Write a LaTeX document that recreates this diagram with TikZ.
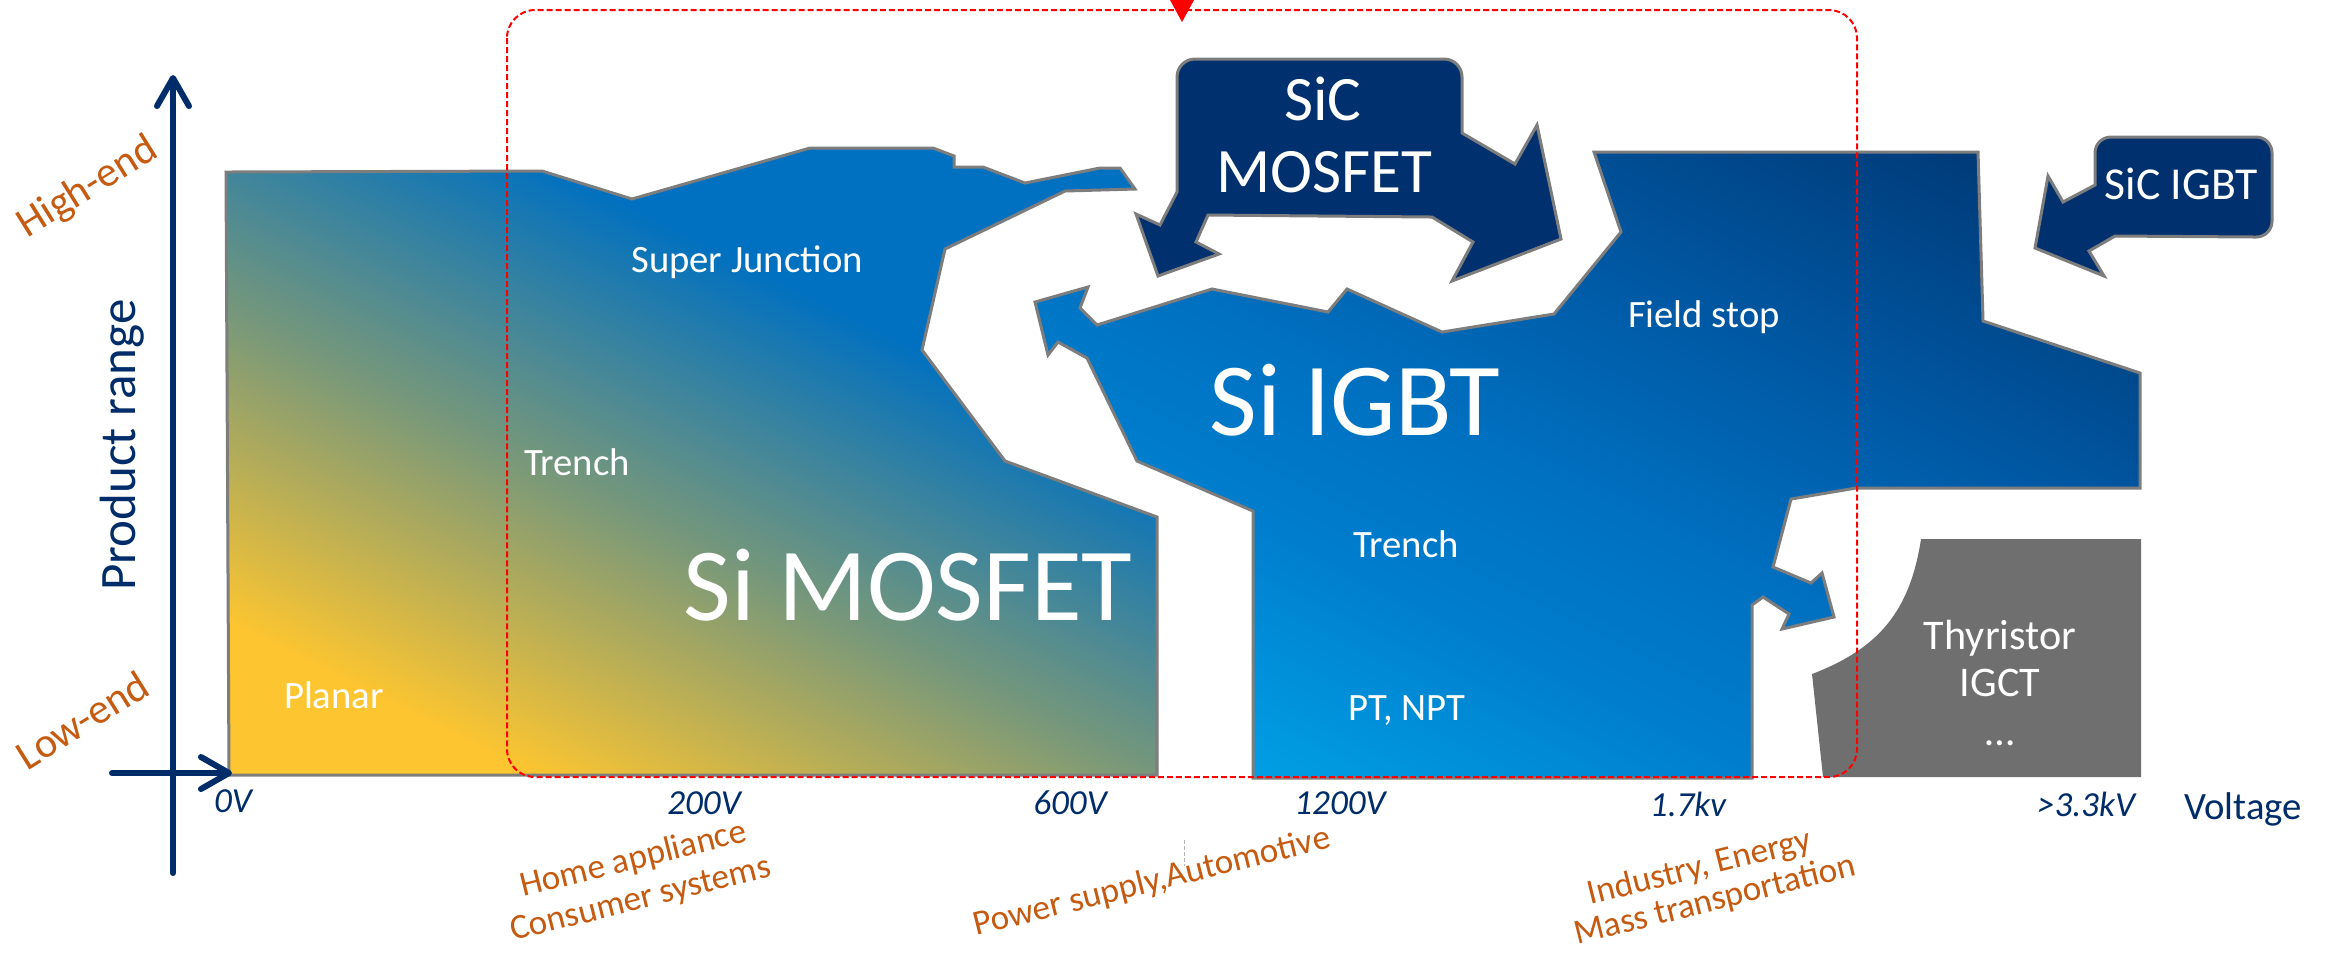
\documentclass[tikz,border=0pt]{standalone}
\usepackage{fontspec}
\setmainfont{Carlito}
\usetikzlibrary{arrows.meta}
\definecolor{navy}{RGB}{0,45,105}
\definecolor{orng}{RGB}{197,90,17}
\definecolor{sicfill}{RGB}{0,48,110}
\definecolor{edgegray}{RGB}{125,125,125}
\definecolor{thygray}{RGB}{111,111,111}
\definecolor{mosY}{RGB}{253,197,48}
\definecolor{mosM}{RGB}{120,152,122}
\definecolor{mosB}{RGB}{0,112,192}
\definecolor{igA}{RGB}{0,160,228}
\definecolor{igB}{RGB}{0,125,205}
\definecolor{igC}{RGB}{0,113,193}
\definecolor{igD}{RGB}{0,88,163}
\definecolor{igE}{RGB}{0,58,120}
\pgfdeclareverticalshading{mosgrad}{100bp}{color(0bp)=(mosY); color(32.3bp)=(mosY); color(46.2bp)=(mosM); color(60.2bp)=(mosB); color(100bp)=(mosB)}
\pgfdeclareverticalshading{igbtgrad}{100bp}{color(0bp)=(igA); color(31.8bp)=(igA); color(42bp)=(igB); color(48.5bp)=(igC); color(57.9bp)=(igD); color(69bp)=(igE); color(100bp)=(igE)}
\begin{document}
\begin{tikzpicture}[x=0.01cm,y=-0.01cm,
  shapeedge/.style={draw=edgegray, line width=0.03cm},
  sicshape/.style={fill=sicfill, draw=edgegray, line width=0.03cm},
  whitelbl/.style={text=white, font=\fontsize{11}{13}\selectfont, inner sep=0pt, anchor=base},
  biglbl/.style={text=white, font=\fontsize{29.5}{35}\selectfont, inner sep=0pt, anchor=base},
  siclbl/.style={text=white, font=\fontsize{18}{21}\selectfont, inner sep=0pt, anchor=base},
  sicigbtlbl/.style={text=white, font=\fontsize{13}{15}\selectfont, inner sep=0pt, anchor=base},
  thylbl/.style={text=white, font=\fontsize{12}{14}\selectfont, inner sep=0pt, anchor=base},
  ticklbl/.style={text=navy, font=\fontsize{10}{12}\selectfont\itshape, inner sep=0pt, anchor=base},
  voltlbl/.style={text=navy, font=\fontsize{11}{13}\selectfont, inner sep=0pt, anchor=base},
  prodlbl/.style={text=navy, font=\fontsize{14.5}{17}\selectfont, inner sep=0pt, anchor=base, rotate=90},
  orglbl/.style={text=orng, font=\fontsize{10}{12}\selectfont, inner sep=0pt, anchor=base west, rotate=14},
  endlbl/.style={text=orng, font=\fontsize{12}{14}\selectfont, inner sep=0pt, rotate=32},
  axisline/.style={draw=navy, line width=0.06cm, line cap=round, -{Straight Barb[round,length=0.28cm,width=0.32cm]}},
  redbox/.style={draw=red, line width=0.02cm, dash pattern=on 0.06cm off 0.03cm, rounded corners=0.28cm}
]
\useasboundingbox (0,0) rectangle (2331,956);

% ---------- Si MOSFET region ----------
\def\mosP{(226,172) -- (542,171) -- (632,199) -- (810,148) -- (933,148) -- (954,156) -- (954,167) -- (983,167) -- (1025,183) -- (1100,168) -- (1120,168) -- (1135,189) -- (1065,191) -- (945,249) -- (922,350) -- (1005,461) -- (1157,517) -- (1157,775) -- (229,775) -- cycle}
\begin{scope}
  \clip \mosP;
  \shade[shading=mosgrad, shading angle=-26.57] (191.5,-38.5) rectangle (1191.5,961.5);
\end{scope}
\draw[shapeedge] \mosP;

% ---------- Si IGBT region ----------
\def\igP{(1253,778) -- (1253,511) -- (1137,461) -- (1087,358) -- (1058,342) -- (1048,355) -- (1035,302) -- (1088,287) -- (1080,308) -- (1097,325) -- (1212,289) -- (1328,312) -- (1347,289) -- (1442,332) -- (1554,314) -- (1621,232) -- (1594,152) -- (1978,152) -- (1983,321) -- (2140,373) -- (2140,488) -- (1856,488) -- (1791,499) -- (1773,567) -- (1811,583) -- (1822,573) -- (1834,617) -- (1782,629) -- (1789,614) -- (1763,597) -- (1752,605) -- (1752,778) -- cycle}
\begin{scope}
  \clip \igP;
  \shade[shading=igbtgrad, shading angle=-26.57] (987.5,-135) rectangle (2187.5,1065);
\end{scope}
\draw[shapeedge] \igP;

% ---------- Thyristor region ----------
\fill[thygray] (1921,539) -- (2141,539) -- (2141,777) -- (1823,777) -- (1812,674) .. controls (1880,648) and (1910,610) .. (1921,539) -- cycle;

% ---------- SiC MOSFET callout ----------
\path[sicshape] (1177,192) -- (1177,77) .. controls (1177,67) and (1185,59) .. (1195,59) -- (1444,59) .. controls (1454,59) and (1462,67) .. (1462,77) -- (1462,133) -- (1515,164) -- (1537,125) -- (1561,239) -- (1452,281) -- (1473,242) -- (1432,217) -- (1208,215) -- (1196,242) -- (1219,254) -- (1158,276) -- (1136,214) -- (1160,225) -- cycle;

% ---------- SiC IGBT callout ----------
\path[sicshape] (2095,185) -- (2095,153) .. controls (2095,144) and (2102,137) .. (2111,137) -- (2256,137) .. controls (2265,137) and (2272,144) .. (2272,153) -- (2272,221) .. controls (2272,230) and (2265,237) .. (2256,237) -- (2115,236) -- (2089,251) -- (2104,276) -- (2035,248) -- (2048,176) -- (2063,202) -- cycle;

% ---------- labels inside shapes ----------
\node[whitelbl] (superj) at (747,272) {Super Junction};
\node[whitelbl] (trenchm) at (577,475) {Trench};
\node[whitelbl] (planar) at (334,708) {Planar};
\node[biglbl] (simos) at (908,620) {Si MOSFET};
\node[biglbl] (siigbt) at (1355,435) {Si IGBT};
\node[whitelbl] (trenchi) at (1406,557) {Trench};
\node[whitelbl] (ptnpt) at (1407,720) {PT, NPT};
\node[whitelbl] (fieldstop) at (1704,327) {Field stop};
\node[siclbl] (sicA) at (1323,120) {SiC};
\node[siclbl] (sicB) at (1324,192) {MOSFET};
\node[sicigbtlbl] (sicigbt) at (2181,199) {SiC IGBT};
\node[thylbl] (thyA) at (2000,649) {Thyristor};
\node[thylbl] (thyB) at (2000,696) {IGCT};
\node[thylbl] (thyC) at (2000,745) {\dots};

% ---------- axes ----------
\coordinate (yfoot) at (173,873);
\coordinate (ytip) at (173,75);
\coordinate (xfoot) at (112,773);
\coordinate (xtip) at (232,773);
\draw[axisline] (yfoot) -- (ytip);
\draw[axisline] (xfoot) -- (xtip);

\node[prodlbl] (prodrange) at (135,445) {Product range};
\node[endlbl] (highend) at (88,188) {High-end};
\node[endlbl] (lowend) at (82,720) {Low-end};

% ---------- voltage ticks ----------
\node[ticklbl] (vA) at (233,812) {0V};
\node[ticklbl] (vB) at (704,814) {200V};
\node[ticklbl] (vC) at (1070,814) {600V};
\node[ticklbl] (vD) at (1340,814) {1200V};
\node[ticklbl] (vE) at (1688,816) {1.7kv};
\node[ticklbl] (vF) at (2086,816) {>3.3kV};
\node[voltlbl] (voltage) at (2243,819) {Voltage};

% ---------- application labels ----------
\node[orglbl] (appA) at (523,897) {Home appliance};
\node[orglbl] (appB) at (513,941) {Consumer systems};
\node[orglbl] (appC) at (976,936) {Power supply,Automotive};
\node[orglbl] (appD) at (1590,905) {Industry, Energy};
\node[orglbl] (appE) at (1577,945) {Mass transportation};
\coordinate (tickA) at (1184,840);
\coordinate (tickB) at (1184,866);
\draw[gray!60, line width=0.01cm, dash pattern=on 0.04cm off 0.02cm] (tickA) -- (tickB);

% ---------- red dashed focus box ----------
\draw[redbox] (507,10) rectangle (1857,777);
\fill[red] (1170,0) -- (1194,0) -- (1182,22) -- cycle;
\end{tikzpicture}
\end{document}
